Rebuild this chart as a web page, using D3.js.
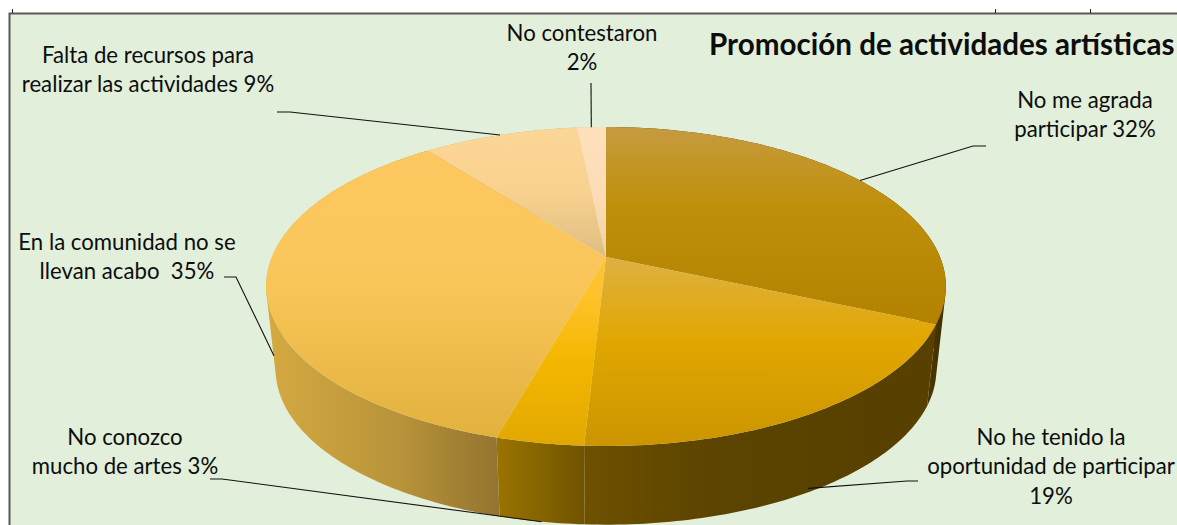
<!DOCTYPE html>
<html>
<head>
<meta charset="utf-8">
<script src="https://cdn.jsdelivr.net/npm/d3@7"></script>
<style>
  html, body { margin: 0; padding: 0; background: #fff; overflow: hidden; }
  text { font-family: Lato, "Open Sans", sans-serif; fill: #0d0d0d; }
</style>
</head>
<body>
<svg id="chart" width="1177" height="525"></svg>
<script>
// values, clockwise from 12 o'clock. estimated from the slice edges, they round to the printed labels
const categories = ["No me agrada participar", "No he tenido la oportunidad de participar", "No conozco mucho de artes",
    "En la comunidad no se llevan acabo", "Falta de recursos para realizar las actividades", "No contestaron"];
const values = [31.6, 19.25, 3.49, 35.2, 8.8, 1.66];
const chartTitle = "Promoción de actividades artísticas";

const labelLines = [
    ["No me agrada", "participar 32%"],
    ["No he tenido la", "oportunidad de participar", "19%"],
    ["No conozco", "mucho de artes 3%"],
    ["En la comunidad no se", "llevan acabo\u00a0\u00a035%"],
    ["Falta de recursos para", "realizar las actividades 9%"],
    ["No contestaron", "2%"]
];

// layout, kept apart from the data
const labelPos = [[1085, 100], [1051, 437], [125, 437], [127, 242], [148, 55], [582, 33]];
const lineHeight = 29.5;
const elbows = [
    [[986, 146], [973, 146]],
    [[918, 481], [907, 481]],
    [[210, 479], [222, 479]],
    [[224, 277], [236, 277]],
    [[277, 112], [290, 112]],
    [[591, 83]]
];
// how far down the wall the leader lands
const leaderDepth = [0, 0.95, 1, 0.82, 0, 0];

const topStops = [
    [[127, "#c69b40"], [205, "#c08f0a"], [320, "#b38200"]],
    [[262, "#dfb03f"], [340, "#e1a700"], [446, "#cb9500"]],
    [[290, "#ffc32f"], [360, "#f4b700"], [445, "#e1a800"]],
    [[150, "#fdc85f"], [280, "#fac65a"], [436, "#e2b13e"]],
    [[130, "#fcd696"], [190, "#f9d28f"], [255, "#dfbe82"]],
    [[127, "#fee0bc"], [200, "#fbdcb4"], [255, "#f0d2a6"]]
];
const wallStops = [
    [[930, "#4a3600"], [948, "#3c2c00"]],
    [[584, "#6e5100"], [720, "#5b4300"], [940, "#574000"]],
    [[497, "#9a7400"], [584, "#705300"]],
    [[268, "#d4a941"], [400, "#b8933a"], [497, "#94742f"]],
    [[0, "#c9a060"], [1177, "#c9a060"]],
    [[0, "#e0c090"], [1177, "#e0c090"]]
];

const svg = d3.select("#chart");
const defs = svg.append("defs");

// pie plane seen in perspective: unit circle -> screen
const apexX = 606, apexY = 257, radX = 334, radY = 154, persp = 0.185;
const wallScale = 0.972, wallDrop = 84;

function rimPoint(theta, depth) {
    const u = Math.sin(theta), v = -Math.cos(theta), w = 1 - persp * v;
    const x = radX * u / w, y = radY * v / w;
    const s = 1 + (wallScale - 1) * depth;
    return [apexX + s * x, apexY + s * y + wallDrop * depth];
}

function arcPoints(a0, a1, depth) {
    const n = Math.max(2, Math.ceil((a1 - a0) * 60));
    return d3.range(n + 1).map(i => rimPoint(a0 + (a1 - a0) * i / n, depth));
}

// wall is swept from top rim to bottom rim, one quad per step so the silhouette stays straight
function wallPath(d) {
    const up = arcPoints(d.startAngle, d.endAngle, 0);
    const down = arcPoints(d.startAngle, d.endAngle, 1);
    return d3.range(up.length - 1).map(i => {
        const quad = [up[i], up[i + 1], down[i + 1], down[i]];
        // keep every quad wound the same way
        return line(d3.polygonArea(quad) < 0 ? quad.reverse() : quad) + "Z";
    }).join("");
}

const pie = d3.pie().sort(null).value(d => d);
const slices = pie(values);
const line = d3.line();

function addGradient(id, stops, vertical) {
    const lo = stops[0][0], hi = stops[stops.length - 1][0];
    const g = defs.append("linearGradient").attr("id", id).attr("gradientUnits", "userSpaceOnUse");
    if (vertical) g.attr("x1", 0).attr("x2", 0).attr("y1", lo).attr("y2", hi);
    else g.attr("y1", 0).attr("y2", 0).attr("x1", lo).attr("x2", hi);
    stops.forEach(s => g.append("stop").attr("offset", (s[0] - lo) / (hi - lo)).attr("stop-color", s[1]));
}

// panel
svg.append("rect").attr("x", 9.5).attr("y", 13.5).attr("width", 1170).attr("height", 520)
    .attr("fill", "#e2efda").attr("stroke", "#595959").attr("stroke-width", 2);
[12, 995, 1090].forEach(x => svg.append("line").attr("x1", x + 0.5).attr("x2", x + 0.5).attr("y1", 9).attr("y2", 13)
    .attr("stroke", "#222"));

// walls
svg.append("g").selectAll("path").data(slices).join("path")
    .each((d, i) => addGradient("wall" + i, wallStops[i], false))
    .attr("fill", (d, i) => "url(#wall" + i + ")")
    .attr("d", wallPath);

// top face
svg.append("g").selectAll("path").data(slices).join("path")
    .each((d, i) => addGradient("top" + i, topStops[i], true))
    .attr("fill", (d, i) => "url(#top" + i + ")")
    .attr("d", d => line([[apexX, apexY]].concat(arcPoints(d.startAngle, d.endAngle, 0))) + "Z");

// leaders
svg.append("g").selectAll("path").data(slices).join("path")
    .attr("fill", "none").attr("stroke", "#111").attr("stroke-width", 1.1)
    .attr("d", (d, i) => line(elbows[i].concat([rimPoint((d.startAngle + d.endAngle) / 2, leaderDepth[i])])));

// labels
const labels = svg.append("g").selectAll("text").data(labelLines).join("text")
    .attr("text-anchor", "middle").attr("font-size", 22.2);
labels.selectAll("tspan").data((d, i) => d.map((t, j) => ({ t: t, x: labelPos[i][0], y: labelPos[i][1] + j * lineHeight })))
    .join("tspan")
    .attr("x", d => d.x).attr("y", d => d.y).attr("dy", "0.35em")
    .text(d => d.t);

svg.append("text").attr("x", 709).attr("y", 45).attr("dy", "0.35em")
    .attr("font-size", 29.6).attr("font-weight", 700).attr("fill", "#000")
    .text(chartTitle);
</script>
</body>
</html>
